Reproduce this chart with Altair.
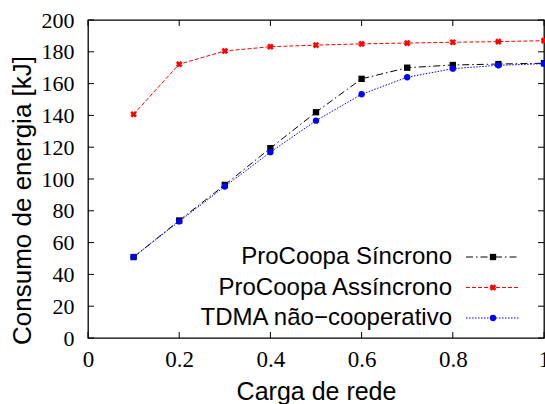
import altair as alt
import pandas as pd

x_vals = [0.1, 0.2, 0.3, 0.4, 0.5, 0.6, 0.7, 0.8, 0.9, 1.0]
sincrono = [50.9, 73.9, 96.3, 119.4, 142.0, 163.0, 170.0, 171.7, 172.3, 172.8]
assincrono = [140.7, 172.2, 180.5, 183.2, 184.2, 185.0, 185.5, 186.0, 186.4, 187.0]
tdma = [51.0, 73.3, 95.3, 116.9, 136.7, 153.3, 164.0, 169.4, 171.5, 172.5]

series_names = ["ProCoopa Síncrono", "ProCoopa Assíncrono", "TDMA não\u2212cooperativo"]
series_values = [sincrono, assincrono, tdma]
colors = ["#000000", "#ff0000", "#0000ff"]
dashes = [[7, 3, 1.5, 3], [4, 2], [1.5, 1.5]]
shapes = ["square", "cross", "circle"]
angles = [0, 45, 0]
sizes = [40, 45, 40]

x_ticks = [0, 0.2, 0.4, 0.6, 0.8, 1]
y_ticks = [0, 20, 40, 60, 80, 100, 120, 140, 160, 180, 200]

W, H = 456, 318

xs = alt.Scale(domain=[0, 1], nice=False, zero=False)
ys = alt.Scale(domain=[0, 200], nice=False)

xaxis = alt.Axis(
    title="Carga de rede", values=x_ticks, labelExpr="datum.value",
    tickSize=0, domain=False, grid=False, labelFont="Liberation Serif",
    labelFontSize=23, labelColor="#000", labelPadding=10,
    titleFont="Liberation Sans", titleFontSize=25, titleFontWeight="normal",
    titleColor="#000", titlePadding=8, labelFlush=False, labelOverlap=False)
yaxis = alt.Axis(
    title="Consumo de energia [kJ]", values=y_ticks,
    tickSize=0, domain=False, grid=False, labelFont="Liberation Serif",
    labelFontSize=22, labelColor="#000", labelPadding=14,
    titleFont="Liberation Sans", titleFontSize=26, titleFontWeight="normal",
    titleColor="#000", titleX=-65.5, titleY=180, titleAngle=270,
    titleAlign="center", titleBaseline="middle",
    labelFlush=False, labelOverlap=False)

layers = []
for i, (name, vals) in enumerate(zip(series_names, series_values)):
    df = pd.DataFrame({"x": x_vals, "y": vals, "serie": name})
    xenc = alt.X("x:Q", scale=xs, axis=xaxis)
    yenc = alt.Y("y:Q", scale=ys, axis=yaxis)
    base = alt.Chart(df)
    line = base.mark_line(color=colors[i], strokeWidth=1, strokeDash=dashes[i]).encode(x=xenc, y=yenc)
    pts = base.mark_point(shape=shapes[i], filled=True, color=colors[i], size=sizes[i],
                          angle=angles[i], opacity=1).encode(x=xenc, y=yenc)
    layers += [line, pts]

    # legend entry (symbol at right of label)
    ly = 237 + 30.5 * i
    ldf = pd.DataFrame({"label": [name]})
    layers.append(alt.Chart(ldf).mark_text(align="right", baseline="middle",
                  font="Liberation Sans", fontSize=24, color="#000").encode(
        text="label:N", x=alt.value(364), y=alt.value(ly)))
    layers.append(alt.Chart(ldf).mark_rule(color=colors[i], strokeWidth=1,
                  strokeDash=dashes[i]).encode(
        x=alt.value(378), x2=alt.value(431), y=alt.value(ly)))
    layers.append(alt.Chart(ldf).mark_point(shape=shapes[i], filled=True, color=colors[i],
                  size=sizes[i], angle=angles[i], opacity=1).encode(
        x=alt.value(405), y=alt.value(ly)))

xt = pd.DataFrame({"x": x_ticks})
yt = pd.DataFrame({"y": y_ticks})
tk = dict(color="#000", strokeWidth=1)
layers += [
    alt.Chart(xt).mark_rule(**tk).encode(x=alt.X("x:Q", scale=xs, axis=xaxis), y=alt.value(H), y2=alt.value(H - 6)),
    alt.Chart(xt).mark_rule(**tk).encode(x=alt.X("x:Q", scale=xs, axis=xaxis), y=alt.value(0), y2=alt.value(6)),
    alt.Chart(yt).mark_rule(**tk).encode(y=alt.Y("y:Q", scale=ys, axis=yaxis), x=alt.value(0), x2=alt.value(6)),
    alt.Chart(yt).mark_rule(**tk).encode(y=alt.Y("y:Q", scale=ys, axis=yaxis), x=alt.value(W), x2=alt.value(W - 6)),
]

chart = alt.layer(*layers).properties(
    width=W, height=H,
    padding={"left": 88, "top": 20, "right": 1, "bottom": 66},
    autosize=alt.AutoSizeParams(type="none"),
    background="white",
).configure_view(stroke="#000", strokeWidth=1.3)

chart.save("out.html", embed_options={"renderer": "svg", "actions": False})
